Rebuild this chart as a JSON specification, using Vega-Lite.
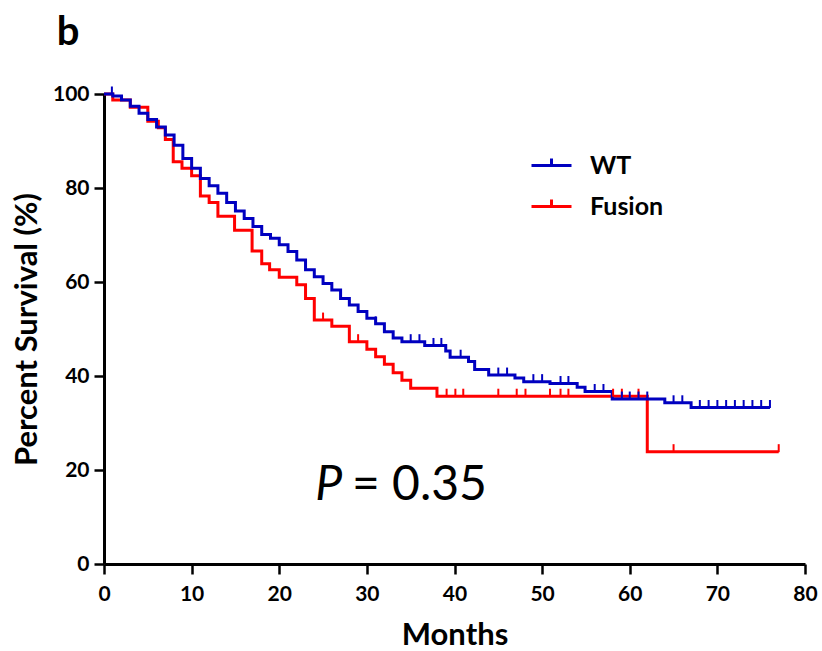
{
  "$schema": "https://vega.github.io/schema/vega-lite/v6.json",
  "width": 701,
  "height": 470,
  "autosize": {"type": "none"},
  "padding": {"left": 104, "top": 94, "right": 17, "bottom": 87},
  "background": "white",
  "datasets": {
    "curve": [
      {"g": "WT", "m": 0, "s": 100}, {"g": "WT", "m": 1, "s": 99.6}, {"g": "WT", "m": 2, "s": 98.7}, {"g": "WT", "m": 3, "s": 97.4},
      {"g": "WT", "m": 4, "s": 95.9}, {"g": "WT", "m": 5, "s": 94.6}, {"g": "WT", "m": 6, "s": 93.0}, {"g": "WT", "m": 7, "s": 91.3},
      {"g": "WT", "m": 8, "s": 89.1}, {"g": "WT", "m": 9, "s": 86.3}, {"g": "WT", "m": 10, "s": 84.2}, {"g": "WT", "m": 11, "s": 82.0},
      {"g": "WT", "m": 12, "s": 80.5}, {"g": "WT", "m": 13, "s": 78.9}, {"g": "WT", "m": 14, "s": 76.9}, {"g": "WT", "m": 15, "s": 75.1},
      {"g": "WT", "m": 16, "s": 73.5}, {"g": "WT", "m": 17, "s": 71.8}, {"g": "WT", "m": 18, "s": 70.1}, {"g": "WT", "m": 19, "s": 69.3},
      {"g": "WT", "m": 20, "s": 67.9}, {"g": "WT", "m": 21, "s": 66.5}, {"g": "WT", "m": 22, "s": 64.7}, {"g": "WT", "m": 23, "s": 62.6},
      {"g": "WT", "m": 24, "s": 61.1}, {"g": "WT", "m": 25, "s": 59.7}, {"g": "WT", "m": 26, "s": 58.3}, {"g": "WT", "m": 27, "s": 56.5},
      {"g": "WT", "m": 28, "s": 55.1}, {"g": "WT", "m": 29, "s": 53.7}, {"g": "WT", "m": 30, "s": 52.3}, {"g": "WT", "m": 31, "s": 51.1},
      {"g": "WT", "m": 32, "s": 49.4}, {"g": "WT", "m": 33, "s": 48.1}, {"g": "WT", "m": 34, "s": 47.3}, {"g": "WT", "m": 36.6, "s": 46.5},
      {"g": "WT", "m": 39, "s": 45.3}, {"g": "WT", "m": 39.5, "s": 44.0}, {"g": "WT", "m": 41.6, "s": 43.1}, {"g": "WT", "m": 42.3, "s": 41.4},
      {"g": "WT", "m": 43.9, "s": 40.2}, {"g": "WT", "m": 46.9, "s": 39.6}, {"g": "WT", "m": 47.9, "s": 38.8}, {"g": "WT", "m": 50.9, "s": 38.4},
      {"g": "WT", "m": 54, "s": 37.6}, {"g": "WT", "m": 54.9, "s": 36.7}, {"g": "WT", "m": 58, "s": 35.1}, {"g": "WT", "m": 64, "s": 34.3},
      {"g": "WT", "m": 67, "s": 33.3}, {"g": "WT", "m": 76, "s": 33.3},
      {"g": "Fusion", "m": 0, "s": 100}, {"g": "Fusion", "m": 1, "s": 98.7}, {"g": "Fusion", "m": 3, "s": 97.2}, {"g": "Fusion", "m": 5, "s": 94.2},
      {"g": "Fusion", "m": 6.2, "s": 92.8}, {"g": "Fusion", "m": 7, "s": 90.3}, {"g": "Fusion", "m": 7.9, "s": 85.6}, {"g": "Fusion", "m": 8.9, "s": 84.2},
      {"g": "Fusion", "m": 10, "s": 82.6}, {"g": "Fusion", "m": 11, "s": 78.3}, {"g": "Fusion", "m": 12, "s": 76.9}, {"g": "Fusion", "m": 13, "s": 74.0},
      {"g": "Fusion", "m": 14.9, "s": 71.0}, {"g": "Fusion", "m": 16.9, "s": 66.6}, {"g": "Fusion", "m": 18, "s": 63.9}, {"g": "Fusion", "m": 18.9, "s": 62.6},
      {"g": "Fusion", "m": 20, "s": 61.0}, {"g": "Fusion", "m": 22, "s": 59.4}, {"g": "Fusion", "m": 23, "s": 56.5}, {"g": "Fusion", "m": 24, "s": 51.9},
      {"g": "Fusion", "m": 26, "s": 50.6}, {"g": "Fusion", "m": 28, "s": 47.3}, {"g": "Fusion", "m": 30, "s": 45.7}, {"g": "Fusion", "m": 31, "s": 44.1},
      {"g": "Fusion", "m": 32, "s": 42.5}, {"g": "Fusion", "m": 33, "s": 40.7}, {"g": "Fusion", "m": 34, "s": 39.1}, {"g": "Fusion", "m": 35, "s": 37.4},
      {"g": "Fusion", "m": 38, "s": 35.7}, {"g": "Fusion", "m": 62, "s": 23.9}, {"g": "Fusion", "m": 77, "s": 23.9}
    ],
    "censor": [
      {"g": "WT", "m": 0.9, "s": 100}, {"g": "WT", "m": 31, "s": 51.1}, {"g": "WT", "m": 35, "s": 47.3}, {"g": "WT", "m": 36, "s": 47.3},
      {"g": "WT", "m": 37.6, "s": 46.5}, {"g": "WT", "m": 38.5, "s": 46.5}, {"g": "WT", "m": 40.7, "s": 44.0}, {"g": "WT", "m": 45, "s": 40.2},
      {"g": "WT", "m": 46, "s": 40.2}, {"g": "WT", "m": 49, "s": 38.8}, {"g": "WT", "m": 50, "s": 38.8}, {"g": "WT", "m": 52.1, "s": 38.4},
      {"g": "WT", "m": 53, "s": 38.4}, {"g": "WT", "m": 56, "s": 36.7}, {"g": "WT", "m": 57, "s": 36.7}, {"g": "WT", "m": 59.1, "s": 35.1},
      {"g": "WT", "m": 60, "s": 35.1}, {"g": "WT", "m": 61, "s": 35.1}, {"g": "WT", "m": 62, "s": 35.1}, {"g": "WT", "m": 65, "s": 34.3},
      {"g": "WT", "m": 66, "s": 34.3}, {"g": "WT", "m": 68, "s": 33.3}, {"g": "WT", "m": 69, "s": 33.3}, {"g": "WT", "m": 70, "s": 33.3},
      {"g": "WT", "m": 71, "s": 33.3}, {"g": "WT", "m": 72, "s": 33.3}, {"g": "WT", "m": 73, "s": 33.3}, {"g": "WT", "m": 74, "s": 33.3},
      {"g": "WT", "m": 75, "s": 33.3}, {"g": "WT", "m": 76, "s": 33.3},
      {"g": "Fusion", "m": 25, "s": 51.9}, {"g": "Fusion", "m": 29, "s": 47.3}, {"g": "Fusion", "m": 39.1, "s": 35.7}, {"g": "Fusion", "m": 40.1, "s": 35.7},
      {"g": "Fusion", "m": 41, "s": 35.7}, {"g": "Fusion", "m": 45, "s": 35.7}, {"g": "Fusion", "m": 47.1, "s": 35.7}, {"g": "Fusion", "m": 48.1, "s": 35.7},
      {"g": "Fusion", "m": 50.9, "s": 35.7}, {"g": "Fusion", "m": 52.1, "s": 35.7}, {"g": "Fusion", "m": 53, "s": 35.7}, {"g": "Fusion", "m": 58.1, "s": 35.7},
      {"g": "Fusion", "m": 59.1, "s": 35.7}, {"g": "Fusion", "m": 61, "s": 35.7}, {"g": "Fusion", "m": 65, "s": 23.9}, {"g": "Fusion", "m": 77, "s": 23.9}
    ],
    "notes": [
      {"label": "P", "part": "p"},
      {"label": "= 0.35", "part": "v"},
      {"label": "b", "part": "b"}
    ]
  },
  "layer": [
    {
      "data": {"name": "curve"},
      "transform": [{"filter": "datum.g === 'Fusion'"}],
      "mark": {"type": "line", "interpolate": "step-after", "strokeWidth": 3},
      "encoding": {
        "x": {"field": "m", "type": "quantitative", "scale": {"domain": [0, 80], "nice": false, "zero": false},
          "axis": {"title": "Months", "values": [0, 10, 20, 30, 40, 50, 60, 70, 80], "titlePadding": 16, "labelPadding": 9}},
        "y": {"field": "s", "type": "quantitative", "scale": {"domain": [0, 100], "nice": false},
          "axis": {"title": "Percent Survival (%)", "values": [0, 20, 40, 60, 80, 100], "titlePadding": 9, "labelPadding": 5}},
        "color": {"field": "g", "type": "nominal", "scale": {"domain": ["WT", "Fusion"], "range": ["#0000C0", "#FF0000"]},
          "legend": {"title": null, "orient": "none", "legendX": 426, "legendY": 50, "padding": 0,
            "symbolType": "M-1,0H1M0,0V-0.35", "symbolSize": 1600, "symbolStrokeWidth": 3, "symbolFillColor": "transparent",
            "labelFont": "Lato", "labelFontWeight": "bold", "labelFontSize": 25, "labelColor": "black", "labelOffset": 17, "rowPadding": 6}}
      }
    },
    {
      "data": {"name": "curve"},
      "transform": [{"filter": "datum.g === 'WT'"}],
      "mark": {"type": "line", "interpolate": "step-after", "strokeWidth": 3},
      "encoding": {
        "x": {"field": "m", "type": "quantitative"},
        "y": {"field": "s", "type": "quantitative"},
        "color": {"field": "g", "type": "nominal"}
      }
    },
    {
      "data": {"name": "censor"},
      "mark": {"type": "tick", "orient": "vertical", "size": 8, "thickness": 2, "yOffset": -3.5, "opacity": 1},
      "encoding": {
        "x": {"field": "m", "type": "quantitative"},
        "y": {"field": "s", "type": "quantitative"},
        "color": {"field": "g", "type": "nominal"},
        "order": {"field": "g", "sort": "ascending"}
      }
    },
    {
      "data": {"name": "notes"},
      "transform": [{"filter": "datum.part === 'p'"}],
      "mark": {"type": "text", "font": "Lato", "fontStyle": "italic", "fontSize": 48, "align": "left", "baseline": "alphabetic", "fill": "black"},
      "encoding": {
        "text": {"field": "label", "type": "nominal"},
        "x": {"datum": 24.1, "type": "quantitative"},
        "y": {"datum": 13.6, "type": "quantitative"}
      }
    },
    {
      "data": {"name": "notes"},
      "transform": [{"filter": "datum.part === 'v'"}],
      "mark": {"type": "text", "font": "Lato", "fontSize": 48, "align": "left", "baseline": "alphabetic", "fill": "black"},
      "encoding": {
        "text": {"field": "label", "type": "nominal"},
        "x": {"datum": 28.3, "type": "quantitative"},
        "y": {"datum": 13.6, "type": "quantitative"}
      }
    },
    {
      "data": {"name": "notes"},
      "transform": [{"filter": "datum.part === 'b'"}],
      "mark": {"type": "text", "font": "Lato", "fontWeight": "bold", "fontSize": 40, "align": "left", "baseline": "alphabetic", "fill": "black"},
      "encoding": {
        "text": {"field": "label", "type": "nominal"},
        "x": {"datum": -5.4, "type": "quantitative"},
        "y": {"datum": 110.4, "type": "quantitative"}
      }
    }
  ],
  "config": {
    "view": {"stroke": null},
    "axis": {"grid": false, "domainColor": "black", "domainWidth": 3, "tickColor": "black", "tickWidth": 2.5, "tickSize": 10,
      "labelFont": "Lato", "labelFontWeight": "bold", "labelFontSize": 21, "labelColor": "black",
      "titleFont": "Lato", "titleFontWeight": "bold", "titleFontSize": 31, "titleColor": "black", "labelFlush": false}
  }
}
